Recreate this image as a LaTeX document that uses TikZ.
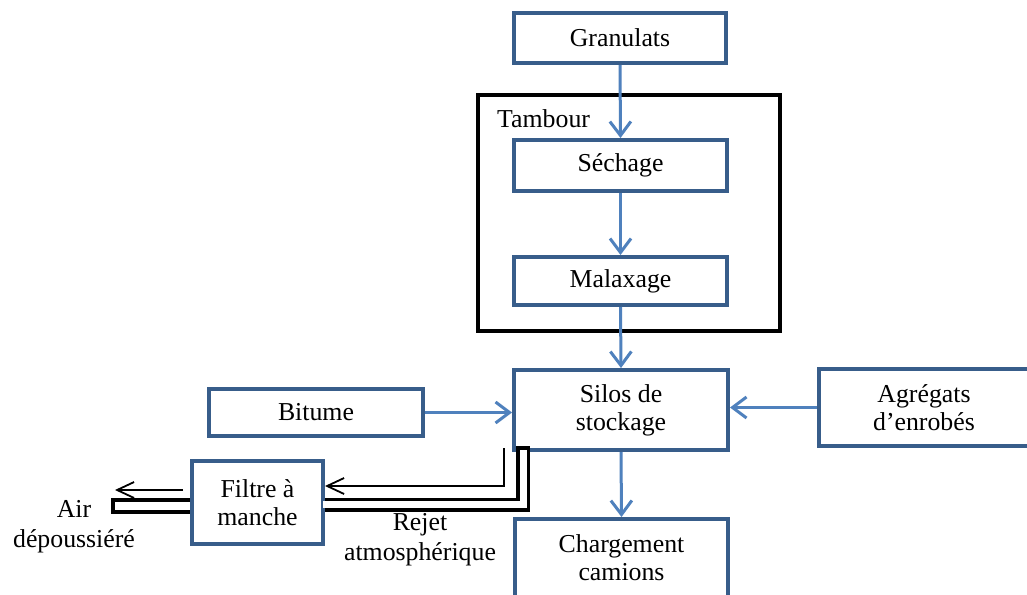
\documentclass[tikz,border=0pt]{standalone}
\usepackage{fontspec}
\setmainfont{Liberation Serif}
\usetikzlibrary{arrows.meta}
\definecolor{boxblue}{RGB}{56,93,138}
\definecolor{arrblue}{RGB}{79,129,189}
\tikzset{
  box/.style={draw=boxblue, line width=4pt, fill=white, align=center, inner sep=0pt,
              font=\fontsize{25.8}{28}\selectfont},
  flow/.style={draw=arrblue, line width=3pt, -{Straight Barb[length=14pt,width=21pt,line width=3pt]}},
  thinarrow/.style={draw=black, line width=1.8pt, -{Straight Barb[length=17pt,width=16pt,line width=1.8pt]}},
  lbl/.style={align=center, inner sep=0pt, font=\fontsize{25.8}{30}\selectfont},
}
\begin{document}
\begin{tikzpicture}[x=1pt,y=-1pt]
\clip (0,0) rectangle (1027,594);
\fill[white] (0,0) rectangle (1027,594);
% container
\node[draw=black, line width=4pt, minimum width=302pt, minimum height=236pt, inner sep=0pt] (tambour) at (629,213) {};
\node[lbl, anchor=west] (tamblbl) at (497,119) {Tambour};
% boxes
\node[box, minimum width=212pt, minimum height=50pt] (gran) at (620,38) {Granulats};
\node[box, minimum width=213pt, minimum height=51pt] (sech) at (620.5,165.5) {Séchage};
\node[box, minimum width=213pt, minimum height=48pt] (malax) at (620.5,281) {Malaxage};
\node[box, minimum width=214pt, minimum height=80pt] (silos) at (621,410) {Silos de\\stockage};
\node[box, minimum width=214pt, minimum height=47pt] (bitume) at (316,412.5) {Bitume};
\node[box, minimum width=210pt, minimum height=77pt] (agreg) at (924,407.5) {Agrégats\\d’enrobés};
\node[box, minimum width=213pt, minimum height=78pt] (charg) at (621.5,558) {Chargement\\camions};
\node[box, minimum width=131pt, minimum height=83pt] (filtre) at (257.5,502.5) {Filtre à\\manche};
% flows
\draw[flow] (gran.south) -- (sech.north);
\draw[flow] (sech.south) -- (malax.north);
\draw[flow] (malax.south) -- (silos.north);
\draw[flow] (bitume.east) -- (silos.west |- bitume.east);
\draw[flow] (agreg.west) -- (silos.east |- agreg.west);
\draw[flow] (silos.south) -- (charg.north);
% atmospheric rejection pipe
\coordinate (pipeC) at (523,504.5);
\draw[black, line width=14pt] (filtre.east |- pipeC) -- (pipeC) -- ([yshift=6pt]pipeC |- silos.south);
\draw[white, line width=7pt] ([xshift=-2pt]filtre.east |- pipeC) -- (pipeC) -- ([yshift=2pt]pipeC |- silos.south);
\coordinate (rej) at (504,486);
\draw[thinarrow] ([yshift=4pt]rej |- silos.south) -- (rej) -- (filtre.east |- rej);
% dust-free air outlet
\coordinate (airTop) at (113,500);
\coordinate (airBot) at (113,512);
\draw[black, line width=3.5pt, fill=white] (filtre.west |- airTop) -- (airTop) -- (airBot) -- (filtre.west |- airBot);
\coordinate (airTip) at (115,490);
\draw[thinarrow] ([xshift=-7pt]filtre.west |- airTip) -- (airTip);
% labels
\node[lbl] (airlbl) at (74,527) {Air\\dépoussiéré};
\node[lbl] (rejlbl) at (420,540) {Rejet\\atmosphérique};
\end{tikzpicture}
\end{document}
